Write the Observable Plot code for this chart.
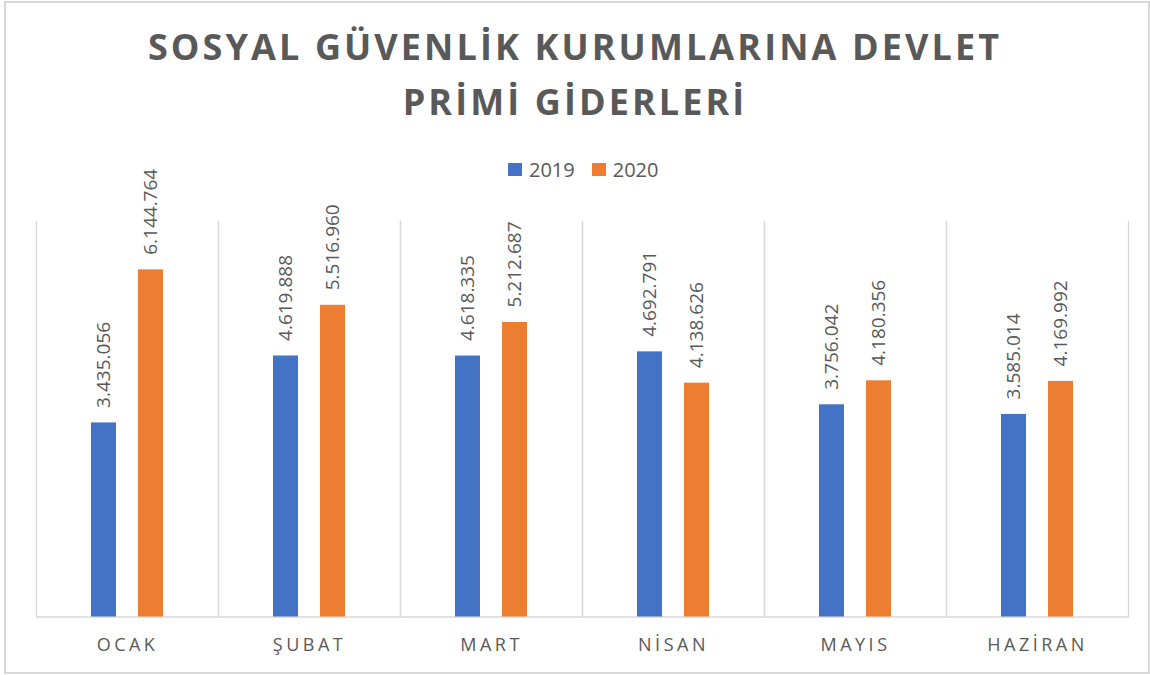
<!DOCTYPE html>
<html>
<head>
<meta charset="utf-8">
<script src="https://cdn.jsdelivr.net/npm/d3@7"></script>
<script src="https://cdn.jsdelivr.net/npm/@observablehq/plot@0.6"></script>
<style>
  html, body { margin: 0; padding: 0; background: #fff; }
  body { width: 1150px; height: 675px; position: relative; overflow: hidden; font-family: "Open Sans", sans-serif; color: #595959; }
  #border { position: absolute; left: 4px; top: 1px; width: 1146px; height: 673px; box-sizing: border-box; border: 2px solid #d9d9d9; }
  #title { position: absolute; left: 0; top: 19px; width: 1150px; text-align: center; font-size: 36px; line-height: 55px; font-weight: 700; letter-spacing: 3.1px; color: #595959; }
  #legend { position: absolute; left: 508px; top: 157px; height: 25px; display: flex; align-items: center; font-size: 20px; color: #595959; }
  #legend .sw { width: 14px; height: 13px; display: inline-block; margin-right: 7px; }
  #legend .item { display: flex; align-items: center; margin-right: 17px; }
  #chart { position: absolute; left: 0; top: 140px; }
  #chart svg { overflow: visible; }
  #chart g[aria-label="fx-axis tick label"] text { letter-spacing: 3.5px; }
</style>
</head>
<body>
<div id="border"></div>
<div id="title">SOSYAL GÜVENLİK KURUMLARINA DEVLET<br>PRİMİ GİDERLERİ</div>
<div id="chart"></div>
<div id="legend"></div>
<script>
const months = ["OCAK", "ŞUBAT", "MART", "NİSAN", "MAYIS", "HAZİRAN"];
const years = ["2019", "2020"];
const values2019 = [3435056, 4619888, 4618335, 4692791, 3756042, 3585014];
const values2020 = [6144764, 5516960, 5212687, 4138626, 4180356, 4169992];
const colors = ["#4472C4", "#ED7D31"];

const data = [];
months.forEach((m, i) => {
  data.push({month: m, year: years[0], value: values2019[i]});
  data.push({month: m, year: years[1], value: values2020[i]});
});

const trFormat = d3.formatLocale({decimal: ",", thousands: ".", grouping: [3], currency: ["", ""]}).format(",d");

const legend = document.getElementById("legend");
years.forEach((y, i) => {
  const it = document.createElement("span");
  it.className = "item";
  it.innerHTML = `<span class="sw" style="background:${colors[i]}"></span>${y}`;
  legend.appendChild(it);
});

const chart = Plot.plot({
  width: 1150,
  height: 530,
  marginLeft: 35,
  marginRight: 22,
  marginTop: 81,
  marginBottom: 53.5,
  style: {fontFamily: "Open Sans, sans-serif", color: "#595959", background: "transparent"},
  fx: {domain: months, padding: 0, label: null},
  x: {domain: years, paddingInner: 0.4726, paddingOuter: 1.158, align: 0.5, axis: null},
  y: {domain: [0, 7000000], axis: null},
  color: {domain: years, range: colors},
  marks: [
    Plot.frame({anchor: "left", stroke: "#d9d9d9", strokeWidth: 1.3}),
    Plot.frame({anchor: "right", stroke: "#d9d9d9", strokeWidth: 1.3}),
    Plot.ruleY([0], {stroke: "#d9d9d9", strokeWidth: 1.5}),
    Plot.barY(data, {fx: "month", x: "year", y: "value", fill: "year"}),
    Plot.text(data, {fx: "month", x: "year", y: "value", text: d => trFormat(d.value), rotate: -90, textAnchor: "start", dy: -15, fill: "#595959", fontSize: 19}),
    Plot.axisFx({anchor: "bottom", tickSize: 0, tickPadding: 21, fontSize: 18, fill: "#595959", label: null})
  ]
});
document.getElementById("chart").appendChild(chart);
</script>
</body>
</html>
